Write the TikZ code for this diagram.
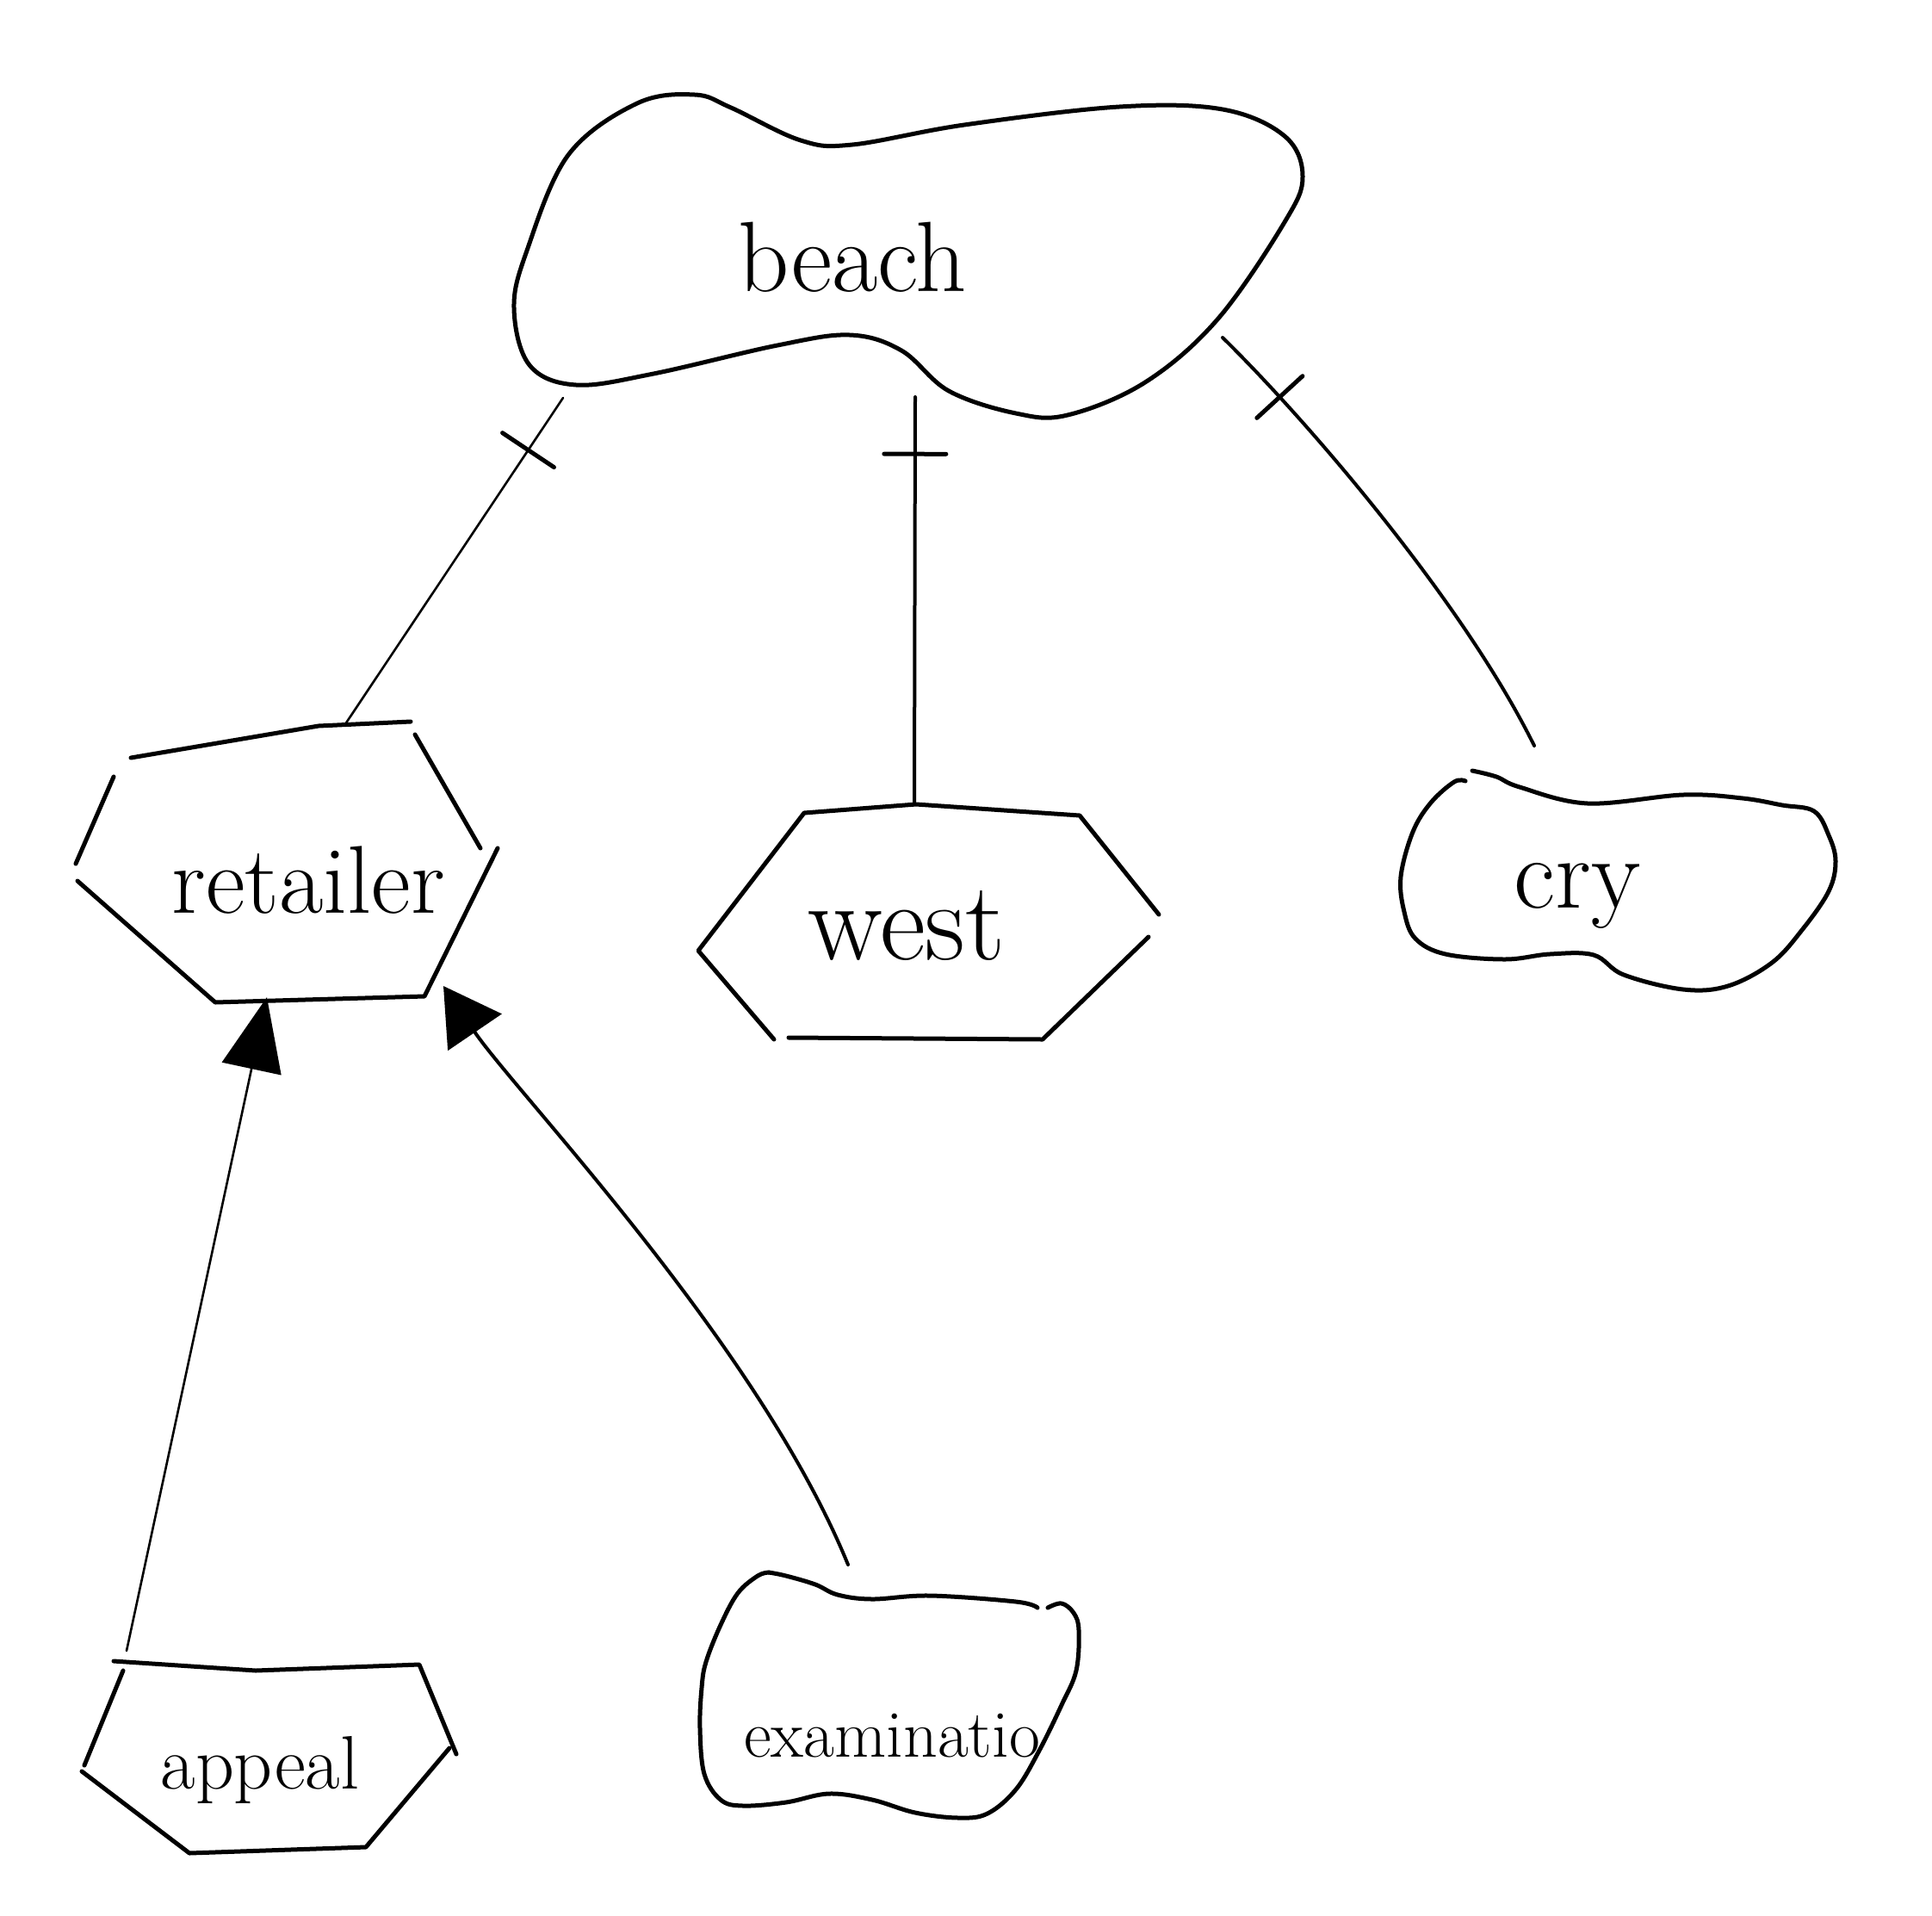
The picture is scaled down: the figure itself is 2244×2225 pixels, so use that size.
\documentclass[tikz,border=0pt]{standalone}
\usetikzlibrary{arrows.meta,decorations.markings}
\begin{document}
\begin{tikzpicture}[x=1pt,y=-1pt,line cap=round,line join=round,
  outline/.style={line width=5pt},
  conn/.style={line width=4pt},
  thinconn/.style={line width=2.6pt},
  lbl/.style={inner sep=0pt,anchor=base},
  tickmark/.style={postaction={decorate},decoration={markings,mark=at position #1 with {\draw[line width=5pt] (0,-36pt) -- (0,36pt);}}}]
\useasboundingbox (0,0) rectangle (2244,2225);
\fill[white] (0,0) rectangle (2244,2225);

% beach blob
\draw[outline] plot[smooth cycle,tension=0.6] coordinates {(807,110) (849,125) (930,163) (990,168) (1120,145) (1300,124) (1420,127) (1492,158) (1513,205) (1492,258) (1414,371) (1330,444) (1240,482) (1180,480) (1102,454) (1047,407) (987,389) (903,401) (759,434) (669,447) (615,424) (597,358) (612,291) (660,180) (740,120)};
\node[lbl,font=\fontsize{116}{130}\selectfont] (beach) at (990,338) {beach};

% retailer hexagon
\draw[outline] (152,880) -- (370,843) -- (477,838);
\draw[outline] (482,853) -- (558,985);
\draw[outline] (578,985) -- (493,1157) -- (250,1164) -- (90,1023);
\draw[outline] (88,1003) -- (132,902);
\node[lbl,font=\fontsize{112}{130}\selectfont] (retailer) at (358,1060) {retailer};

% west hexagon
\draw[outline] (899,1207) -- (811,1104) -- (934,944) -- (1064,934) -- (1254,947) -- (1346,1062);
\draw[outline] (1334,1088) -- (1211,1207) -- (916,1205);
\node[lbl,font=\fontsize{130}{140}\selectfont] (west) at (1053,1114) {west};

% cry blob
\draw[outline] plot[smooth,tension=0.6] coordinates {(1710,895) (1738,902) (1765,914) (1844,933) (1955,923) (2024,927) (2070,935) (2107,942) (2124,970) (2132,1000) (2124,1035) (2093,1080) (2058,1118) (2007,1145) (1955,1149) (1886,1132) (1851,1109) (1800,1108) (1748,1114) (1679,1108) (1644,1090) (1631,1059) (1627,1018) (1641,966) (1662,932) (1689,908) (1702,907)};
\node[lbl,font=\fontsize{118}{130}\selectfont] (cry) at (1832,1054) {cry};

% appeal hexagon
\draw[outline] (132,1929) -- (297,1940) -- (487,1933) -- (530,2037);
\draw[outline] (522,2030) -- (425,2145) -- (220,2152) -- (95,2057);
\draw[outline] (98,2050) -- (143,1940);
\node[lbl,font=\fontsize{88}{100}\selectfont] (appeal) at (302,2077) {appeal};

% examination blob
\draw[outline] plot[smooth,tension=0.6] coordinates {(893,1826) (880,1830) (857,1850) (837,1887) (820,1930) (815,1960) (813,2007) (818,2060) (837,2090) (863,2097) (913,2093) (963,2083) (1013,2090) (1063,2105) (1113,2111) (1147,2106) (1180,2078) (1207,2033) (1233,1980) (1250,1940) (1253,1893) (1247,1873) (1233,1862) (1217,1867)};
\draw[outline] plot[smooth,tension=0.6] coordinates {(1205,1867) (1180,1860) (1080,1853) (1013,1857) (973,1852) (947,1840) (913,1830) (893,1826)};
\node[lbl,font=\fontsize{78}{90}\selectfont] (exam) at (1036,2040) {examinatio};

% connectors
\coordinate (bL) at (654,462);
\coordinate (rT) at (401,841);
\draw[thinconn,tickmark=0.16] (bL) -- (rT);

\coordinate (bM) at (1063,461);
\coordinate (wT) at (1062,934);
\draw[conn,tickmark=0.14] (bM) -- (wT);

\coordinate (bR) at (1420,392);
\coordinate (cT) at (1782,866);
\draw[conn,tickmark=0.16] (bR) .. controls (1520,490) and (1700,700) .. (cT);

\coordinate (aT) at (147,1917);
\coordinate (rB1) at (310,1158);
\draw[thinconn,-{Triangle[length=85pt,width=70pt]}] (aT) -- (rB1);

\coordinate (eT) at (985,1817);
\coordinate (rB2) at (515,1145);
\draw[conn,-{Triangle[length=65pt,width=75pt]}] (eT) .. controls (880,1560) and (600,1270) .. (rB2);
\end{tikzpicture}
\end{document}
